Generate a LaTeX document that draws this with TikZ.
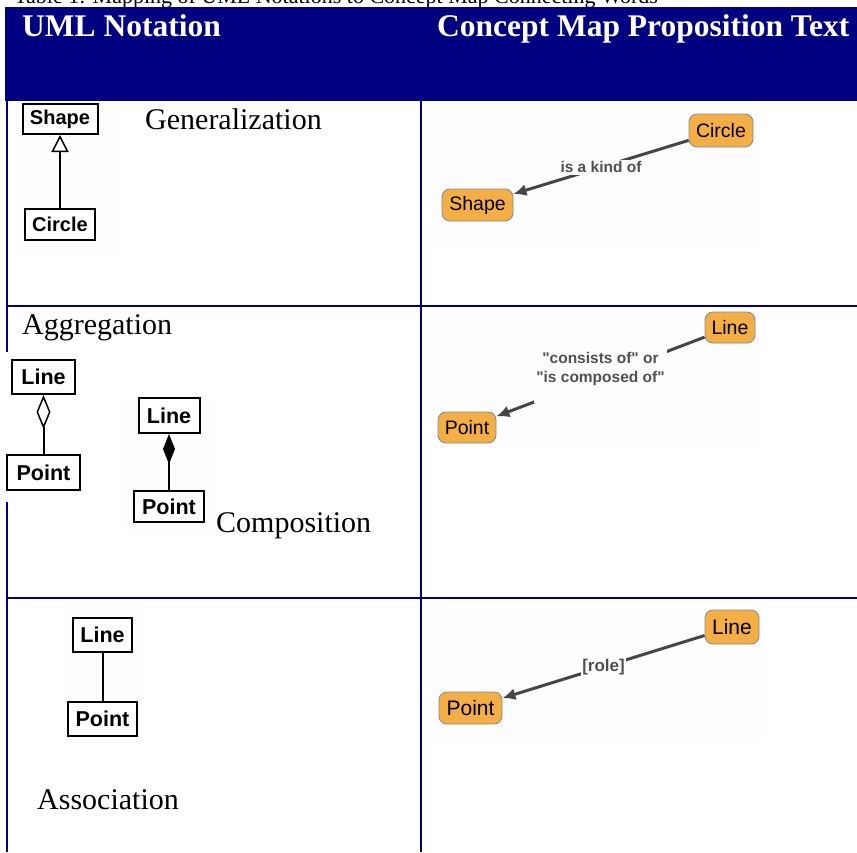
\documentclass[tikz,border=0pt]{standalone}
\usepackage{fontspec}
\setmainfont{Liberation Serif}
\newfontfamily\arial{Liberation Sans}
\usetikzlibrary{arrows.meta}
\definecolor{hdr}{RGB}{0,0,128}
\definecolor{cmfill}{RGB}{243,174,69}
\definecolor{cmborder}{RGB}{140,140,140}
\definecolor{cmline}{RGB}{70,70,70}
\definecolor{cmtext}{RGB}{80,80,80}
\definecolor{imgbg}{RGB}{253,253,253}
\begin{document}
\begin{tikzpicture}[x=1pt,y=-1pt,
  umlbox/.style={draw=black, line width=2pt, fill=white, inner sep=0pt,
    font={\arial\bfseries\fontsize{20}{24}\selectfont}},
  umlbig/.style={umlbox, font={\arial\bfseries\fontsize{21.5}{25}\selectfont}},
  umlline/.style={draw=black, line width=2pt},
  cmnode/.style={draw=cmborder, line width=0.9pt, fill=cmfill, rounded corners=8pt,
    inner sep=0pt, font={\arial\fontsize{19.5}{23}\selectfont}},
  cmbig/.style={cmnode, font={\arial\fontsize{21}{25}\selectfont}},
  cmarrow/.style={draw=cmline, line width=3pt, -{Latex[length=13pt,width=12pt]}},
  cmlabel/.style={fill=imgbg, text=cmtext, inner xsep=1pt, inner ysep=2pt,
    font={\arial\bfseries\fontsize{15.5}{19}\selectfont}},
  rowtext/.style={anchor=base west, inner sep=0pt, font={\fontsize{30}{35}\selectfont}},
  hdrtext/.style={anchor=base west, inner sep=0pt, text=white,
    font={\bfseries\fontsize{31.5}{36}\selectfont}},
  imgback/.style={fill=imgbg, draw=none}
]
\useasboundingbox (0,0) rectangle (857,852);
\fill[white] (0,0) rectangle (857,852);

% caption, cut off at the top
\begin{scope}
  \clip (0,0) rectangle (857,7);
  \node[anchor=base west, inner sep=0pt, font={\fontsize{22}{26}\selectfont}] (caption) at (14,3.5)
    {Table 1: Mapping of UML Notations to Concept Map Connecting Words};
\end{scope}

% header
\fill[hdr] (5,7) rectangle (857,101);
\node[hdrtext] (h1) at (22,36) {UML Notation};
\node[hdrtext] (h2) at (437,36) {Concept Map Proposition Text};

% grid lines
\draw[hdr, line width=2pt] (7,101) -- (7,852);
\draw[hdr, line width=2pt] (421,101) -- (421,852);
\draw[hdr, line width=2pt] (7,306) -- (857,306);
\draw[hdr, line width=2pt] (7,598) -- (857,598);

% embedded image backgrounds
\fill[imgback] (15,103) rectangle (120,258);
\fill[white] (0,352) rectangle (100,502);
\fill[imgback] (124,398) rectangle (213,533);
\fill[imgback] (63,605) rectangle (143,742);
\fill[imgback] (435,102) rectangle (760,250);
\fill[imgback] (433,309) rectangle (760,450);
\fill[imgback] (433,600) rectangle (762,742);

% row texts
\node[rowtext] (tgen) at (145,129) {Generalization};
\node[rowtext] (tagg) at (22,334) {Aggregation};
\node[rowtext] (tcomp) at (216,532) {Composition};
\node[rowtext] (tassoc) at (37,809) {Association};

% UML: generalization
\node[umlbox, minimum width=75pt, minimum height=30pt] (shapeU) at (60,119) {Shape};
\node[umlbox, minimum width=70pt, minimum height=31pt] (circleU) at (60,224.5) {Circle};
\draw[umlline, -{Triangle[open, length=17pt, width=17pt, line width=1.5pt]}] (circleU) -- (shapeU);

% UML: aggregation
\node[umlbig, minimum width=63pt, minimum height=34pt] (lineA) at (43.5,377) {Line};
\node[umlbig, minimum width=73pt, minimum height=35pt] (pointA) at (43.5,472.5) {Point};
\draw[umlline, -{Diamond[open, length=34pt, width=14pt, line width=1.5pt]}] (pointA) -- (lineA);

% UML: composition
\node[umlbig, minimum width=61pt, minimum height=35pt] (lineC) at (169,415.5) {Line};
\node[umlbig, minimum width=70pt, minimum height=31pt] (pointC) at (169,506.5) {Point};
\draw[umlline, -{Diamond[length=30pt, width=12pt]}] (pointC) -- (lineC);

% UML: association
\node[umlbig, minimum width=59pt, minimum height=34pt] (lineS) at (102.5,635) {Line};
\node[umlbig, minimum width=69pt, minimum height=34pt] (pointS) at (102.5,719) {Point};
\draw[umlline] (lineS) -- (pointS);

% concept maps
\node[cmnode, minimum width=64pt, minimum height=33pt] (circleM) at (721,130.5) {Circle};
\node[cmnode, minimum width=71pt, minimum height=32pt] (shapeM) at (477.5,205) {Shape};
\draw[cmarrow] (circleM) -- node[cmlabel] (lab1) {is a kind of} (shapeM);

\node[cmnode, minimum width=50pt, minimum height=31pt] (lineM) at (730,327.5) {Line};
\node[cmnode, minimum width=58pt, minimum height=31pt] (pointM) at (467,427.5) {Point};
\draw[cmarrow] (lineM) -- node[cmlabel, align=center, inner xsep=2pt] (lab2)
  {"consists of" or\\"is composed of"\\~} (pointM);

\node[cmbig, minimum width=54pt, minimum height=34pt] (lineR) at (732,627) {Line};
\node[cmbig, minimum width=63pt, minimum height=32pt] (pointR) at (470.5,708) {Point};
\draw[cmarrow] (lineR) -- node[cmlabel, font={\arial\bfseries\fontsize{17}{20}\selectfont}] (lab3)
  {[role]} (pointR);
\end{tikzpicture}
\end{document}
